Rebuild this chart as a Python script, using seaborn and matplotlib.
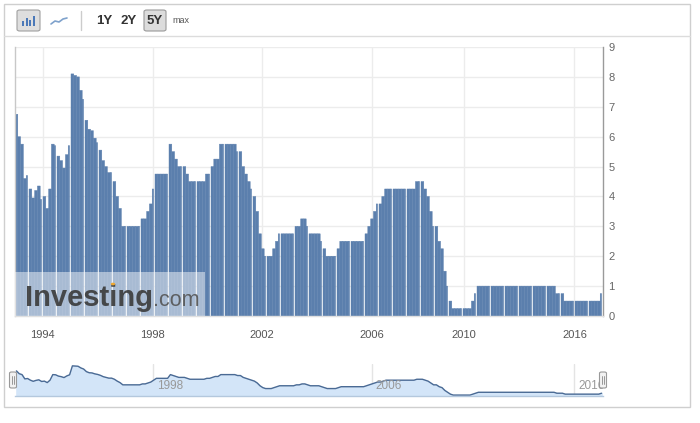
import numpy as np
import pandas as pd
import seaborn as sns
import matplotlib.pyplot as plt
from matplotlib.patches import Rectangle, FancyBboxPatch, Circle
from matplotlib.lines import Line2D
from matplotlib.transforms import blended_transform_factory

# taxa (%) por posição no eixo ordinal, 5 por coluna larga
rate = [
    6.75, 6.0, 5.75, 4.6, 4.7,
    4.25, 3.95, 4.2, 4.35, 3.9,
    4.0, 3.6, 4.25, 5.75, 5.7,
    5.35, 5.2, 4.95, 5.4, 5.7,
    8.1, 8.05, 8.0, 7.55, 7.25,
    6.55, 6.25, 6.2, 5.95, 5.8,
    5.55, 5.2, 5.0, 4.8, 4.8,
    4.5, 4.0, 3.6, 3.0, 3.0,
    3.0, 3.0, 3.0, 3.0, 3.0,
    3.25, 3.25, 3.5, 3.75, 4.25,
    4.75, 4.75, 4.75, 4.75, 4.75,
    5.75, 5.5, 5.25, 5.0, 5.0,
    5.0, 4.75, 4.5, 4.5, 4.5,
    4.5, 4.5, 4.5, 4.75, 4.75,
    5.0, 5.25, 5.25, 5.75, 5.75,
    5.75, 5.75, 5.75, 5.75, 5.5,
    5.5, 5.0, 4.75, 4.5, 4.25,
    4.0, 3.5, 2.75, 2.25, 2.0,
    2.0, 2.0, 2.25, 2.5, 2.75,
    2.75, 2.75, 2.75, 2.75, 2.75,
    3.0, 3.0, 3.25, 3.25, 3.0,
    2.75, 2.75, 2.75, 2.75, 2.5,
    2.25, 2.0, 2.0, 2.0, 2.0,
    2.25, 2.5, 2.5, 2.5, 2.5,
    2.5, 2.5, 2.5, 2.5, 2.5,
    2.75, 3.0, 3.25, 3.5, 3.75,
    3.75, 4.0, 4.25, 4.25, 4.25,
    4.25, 4.25, 4.25, 4.25, 4.25,
    4.25, 4.25, 4.25, 4.5, 4.5,
    4.5, 4.25, 4.0, 3.5, 3.0,
    3.0, 2.5, 2.25, 1.5, 1.0,
    0.5, 0.25, 0.25, 0.25, 0.25,
    0.25, 0.25, 0.25, 0.5, 0.75,
    1.0, 1.0, 1.0, 1.0, 1.0,
    1.0, 1.0, 1.0, 1.0, 1.0,
    1.0, 1.0, 1.0, 1.0, 1.0,
    1.0, 1.0, 1.0, 1.0, 1.0,
    1.0, 1.0, 1.0, 1.0, 1.0,
    1.0, 1.0, 1.0, 0.75, 0.75,
    0.75, 0.5, 0.5, 0.5, 0.5,
    0.5, 0.5, 0.5, 0.5, 0.5,
    0.5, 0.5, 0.5, 0.5, 0.75,
]

year_labels = ['1994', '1998', '2002', '2006', '2010', '2016']
year_slots = [9.4, 48.7, 87.8, 126.9, 159.9, 199.3]
nav_labels = ['1998', '2006', '2016']
nav_slots = [48.7, 126.9, 199.3]
y_ticks = list(range(10))
periods = ['1Y', '2Y', '5Y']

df = pd.DataFrame({'slot': np.arange(len(rate)), 'rate': rate})
# colunas largas de 5 posições, separadas por um fio branco
df['largura'] = np.where(df['slot'] % 5 == 4, 0.5, 1.0)

sns.set_theme(style='white')
plt.rcParams['font.family'] = ['Liberation Sans', 'DejaVu Sans']

W, H = 700, 423
BAR = '#5b7fad'


def fx(x):
    return x / W


def fy(y):
    return 1 - y / H


fig = plt.figure(figsize=(7, 4.23), dpi=100)

# grafico principal
ax = fig.add_axes([fx(15), fy(316), 588 / W, 269 / H])
ax.set_axisbelow(True)
ax.bar(df['slot'] - 0.5, df['rate'], width=df['largura'], align='edge',
       color=BAR, edgecolor=BAR, linewidth=0.3, snap=False, zorder=2)

ax.set_xlim(-0.5, len(rate) - 0.5)
ax.set_ylim(0, 9)
ax.set_yticks(y_ticks)
ax.yaxis.tick_right()
ax.set_xticks(year_slots)
ax.set_xticklabels(year_labels)
ax.set_xlabel('')
ax.set_ylabel('')
ax.grid(True, color='#ececec', lw=1)
ax.tick_params(axis='x', length=0, pad=10, labelsize=8, labelcolor='#555555')
ax.tick_params(axis='y', length=0, pad=4, labelsize=8, labelcolor='#666666')
ax.spines['top'].set_visible(False)
ax.spines['right'].set_color('#9a9a9a')
ax.spines['left'].set_color('#c8c8c8')
ax.spines['bottom'].set_color('#e0e0e0')
for s in ax.spines.values():
    s.set_linewidth(1)

# marca d'agua
fig.add_artist(Rectangle((fx(15), fy(316)), 190 / W, 44 / H, transform=fig.transFigure,
                         fc='white', ec='none', alpha=0.47, zorder=5))
fig.text(fx(25), fy(306), 'Investing', fontsize=21, weight='bold', color='#3a3a3a',
         alpha=0.9, va='baseline', ha='left', zorder=6)
fig.text(fx(153), fy(306), '.com', fontsize=15.5, color='#555555', alpha=0.9,
         va='baseline', ha='left', zorder=6)
fig.add_artist(Circle((fx(113), fy(284)), 2.2 / W, transform=fig.transFigure,
                      fc='#f0a830', ec='none', zorder=7))

# navegador
nav = fig.add_axes([fx(15), fy(396), 588 / W, 32 / H])
for s in nav_slots:
    nav.axvline(s, color='#e4e4e4', lw=1, zorder=0)
nav.fill_between(df['slot'], df['rate'], color='#d3e5f8', zorder=1)
sns.lineplot(data=df, x='slot', y='rate', ax=nav, color='#4a6a94', lw=1, zorder=2)
nav.set_xlim(-0.5, len(rate) - 0.5)
nav.set_ylim(0, 8.6)
nav.set_xticks([])
nav.set_yticks([])
nav.set_xlabel('')
nav.set_ylabel('')
for side in ['top', 'left', 'right']:
    nav.spines[side].set_visible(False)
nav.spines['bottom'].set_color('#b4c8dd')
nav.spines['bottom'].set_linewidth(1)
tr = blended_transform_factory(nav.transData, nav.transAxes)
for lab, s in zip(nav_labels, nav_slots):
    nav.text(s + 1.5, 0.3, lab, transform=tr, va='center', ha='left',
             fontsize=8.5, color='#999999', zorder=3)

# alcas do navegador
for hx in [13, 603]:
    fig.add_artist(FancyBboxPatch((fx(hx - 3.5), fy(388)), 7 / W, 16 / H,
                                  boxstyle='round,pad=0,rounding_size=0.003',
                                  transform=fig.transFigure, fc='#f2f2f2',
                                  ec='#999999', lw=0.8, zorder=8))
    for gx in [hx - 1, hx + 1]:
        fig.add_artist(Line2D([fx(gx), fx(gx)], [fy(384), fy(376)],
                              transform=fig.transFigure, color='#888888',
                              lw=0.6, zorder=9))

# moldura e barra de ferramentas
fig.add_artist(Rectangle((fx(4), fy(407)), 686 / W, 403 / H, transform=fig.transFigure,
                         fill=False, ec='#cfcfcf', lw=1, zorder=10))
fig.add_artist(Line2D([fx(4), fx(690)], [fy(36), fy(36)], transform=fig.transFigure,
                      color='#dcdcdc', lw=1, zorder=10))
fig.add_artist(FancyBboxPatch((fx(17), fy(31)), 23 / W, 21 / H,
                              boxstyle='round,pad=0,rounding_size=0.004',
                              transform=fig.transFigure, fc='#dedede', ec='#a0a0a0',
                              lw=0.8, zorder=10))
for bx, bh in zip([22, 25.5, 29, 32.5], [5, 8, 6, 10]):
    fig.add_artist(Rectangle((fx(bx), fy(26)), 2.4 / W, bh / H, transform=fig.transFigure,
                             fc='#4a78b8', ec='none', zorder=11))
icon_x = [51, 55, 59, 63, 67]
icon_y = [24, 21, 22, 19, 18]
fig.add_artist(Line2D([fx(v) for v in icon_x], [fy(v) for v in icon_y],
                      transform=fig.transFigure, color='#7fa2cc', lw=1.2, zorder=11))
fig.add_artist(Line2D([fx(81), fx(81)], [fy(11), fy(30)], transform=fig.transFigure,
                      color='#cccccc', lw=1, zorder=10))
fig.add_artist(FancyBboxPatch((fx(144), fy(31)), 22 / W, 21 / H,
                              boxstyle='round,pad=0,rounding_size=0.004',
                              transform=fig.transFigure, fc='#dcdcdc', ec='#9a9a9a',
                              lw=0.8, zorder=10))
for lab, cx in zip(periods, [104, 129, 155]):
    fig.text(fx(cx), fy(20.5), lab, ha='center', va='center', fontsize=9.5,
             weight='bold', color='#333333', zorder=11)
fig.text(fx(181), fy(20.5), 'max', ha='center', va='center', fontsize=6.5,
         color='#555555', zorder=11)

fig.savefig('out.png', dpi=100)
